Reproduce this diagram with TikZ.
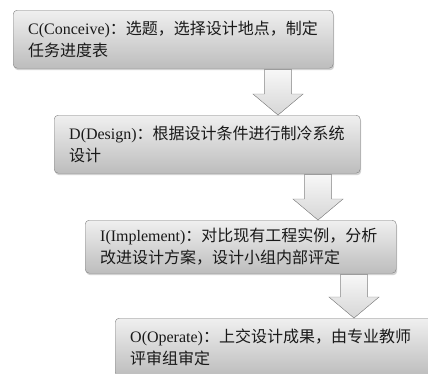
\documentclass[tikz,border=0pt]{standalone}
\usepackage{fontspec}
\setmainfont{Liberation Serif}
\newfontfamily\cjk{Noto Sans CJK SC}
\usetikzlibrary{calc,shadows}
\newcommand\zh[1]{{\cjk #1}}
\newcommand\flowarr[3]{%
  \filldraw[flowarrow] let \p1=(#1.south), \p2=(#2.north) in
    ({(#3-13.5)*1pt},{\y1-1pt}) -- ({(#3+13.5)*1pt},{\y1-1pt})
    -- ({(#3+13.5)*1pt},{\y2+21pt}) -- ({(#3+25)*1pt},{\y2+21pt})
    -- ({#3*1pt},{\y2}) -- ({(#3-25)*1pt},{\y2+21pt})
    -- ({(#3-13.5)*1pt},{\y2+21pt}) -- cycle;}
\begin{document}
\begin{tikzpicture}[x=1pt,y=-1pt,
  stagebox/.style={draw=black!50, rounded corners=4pt, top color=black!6, bottom color=black!26,
    drop shadow={shadow xshift=1pt, shadow yshift=-2pt, opacity=0.35},
    align=left, inner xsep=15pt, inner ysep=0pt, minimum height=58pt,
    font=\fontsize{16}{22}\selectfont, text=black!90, anchor=north west},
  flowarrow/.style={draw=black!45, top color=black!3, bottom color=black!16, line join=miter}]
\useasboundingbox (0,0) rectangle (428,373);
\clip (0,0) rectangle (428,373);
\fill[white] (0,0) rectangle (428,373);
\node[stagebox, text width=290pt] (C) at (13,10)
  {C(Conceive)\zh{：选题，选择设计地点，制定}\\\zh{任务进度表}};
\node[stagebox, text width=276pt] (D) at (54,115)
  {D(Design)\zh{：根据设计条件进行制冷系统}\\\zh{设计}};
\node[stagebox, text width=281pt, minimum height=53pt] (I) at (85,220)
  {I(Implement)\zh{：对比现有工程实例，分析}\\\zh{改进设计方案，设计小组内部评定}};
\node[stagebox, text width=290pt] (O) at (115,318)
  {O(Operate)\zh{：上交设计成果，由专业教师}\\\zh{评审组审定}};
\flowarr{C}{D}{278}
\flowarr{D}{I}{318}
\flowarr{I}{O}{354}
\end{tikzpicture}
\end{document}
